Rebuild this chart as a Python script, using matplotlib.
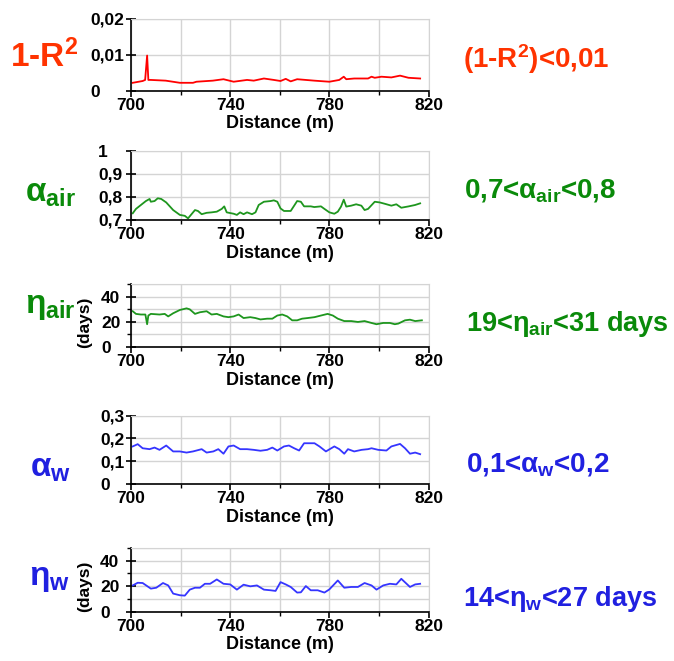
"""Profiles of fit quality and air/water parameters along the distance."""

import numpy as np
import matplotlib.pyplot as plt
from matplotlib.ticker import FixedLocator, MultipleLocator, NullFormatter

plt.rcParams['font.family'] = ['Liberation Sans', 'DejaVu Sans']
plt.rcParams['font.weight'] = 'bold'
plt.rcParams['mathtext.fontset'] = 'custom'
plt.rcParams['mathtext.rm'] = 'Liberation Sans:bold'
plt.rcParams['mathtext.it'] = 'Liberation Sans:bold'
plt.rcParams['mathtext.bf'] = 'Liberation Sans:bold'

# 1 - R^2
r2_x = [700.7, 704.7, 705.7, 706.5, 707, 708, 714, 719.7, 725, 726.4, 733, 737.3,
        741.4, 746.8, 749.5, 753.6, 757.6, 760.3, 762.4, 764.4, 767, 773.9, 780,
        784, 785.8, 786.8, 790, 795.6, 797, 798.3, 801, 805, 808.5, 811.9, 816.6]
r2_y = [0.0022, 0.0027, 0.0030, 0.0098, 0.0030, 0.0030, 0.0028, 0.0022, 0.0022,
        0.0025, 0.0028, 0.0032, 0.0025, 0.0030, 0.0028, 0.0034, 0.0030, 0.0027,
        0.0033, 0.0026, 0.0032, 0.0028, 0.0025, 0.0030, 0.0039, 0.0032, 0.0034,
        0.0034, 0.0039, 0.0036, 0.0039, 0.0037, 0.0042, 0.0036, 0.0034]

# alpha air
aa_x = [700.7, 702, 704, 706, 707.5, 708, 709.5, 710.8, 712.2, 714.2, 717, 719.7,
        721.7, 723, 724.4, 725.8, 727, 728.5, 730.5, 732.5, 734.6, 736.6, 737.6,
        738.6, 741.4, 742.7, 744, 745.4, 746.8, 748.8, 750.2, 751.5, 753.6, 756.3,
        757.6, 759, 760.3, 761.7, 764.4, 765.8, 767, 768.5, 769.8, 772.5, 773.9,
        776.6, 778, 780, 782, 783.4, 784.7, 785.8, 786.8, 788.8, 790.8, 792.9,
        794.2, 795.6, 798.3, 800.3, 802.4, 805, 807, 809, 812, 814.6, 816.6]
aa_y = [0.729, 0.748, 0.765, 0.782, 0.791, 0.779, 0.782, 0.794, 0.791, 0.776,
        0.743, 0.722, 0.718, 0.707, 0.725, 0.743, 0.739, 0.725, 0.731, 0.733,
        0.736, 0.748, 0.759, 0.733, 0.727, 0.722, 0.733, 0.725, 0.733, 0.725,
        0.733, 0.765, 0.779, 0.782, 0.785, 0.779, 0.750, 0.739, 0.739, 0.762,
        0.782, 0.779, 0.759, 0.759, 0.756, 0.759, 0.748, 0.733, 0.727, 0.736,
        0.758, 0.788, 0.758, 0.762, 0.768, 0.762, 0.743, 0.748, 0.779, 0.776,
        0.770, 0.762, 0.768, 0.753, 0.759, 0.765, 0.772]

# eta air (days)
ea_x = [700.7, 702, 704, 705.8, 706.5, 707, 708, 711.5, 713.6, 715, 717, 719.7,
        722.4, 723.7, 725.8, 727.8, 730.5, 732.5, 734.6, 737.3, 739.3, 741.4,
        743.4, 745.4, 748.1, 750.2, 752.2, 754.9, 757, 759, 761, 763, 765, 767,
        769, 771.2, 774, 776.6, 779.3, 781.4, 783.4, 786, 788.8, 791.5, 794.2,
        797, 799, 801.7, 804.4, 806.4, 807.8, 810.5, 812.5, 814.6, 817.3]
ea_y = [28.4, 26.3, 25.8, 25.8, 18.1, 25.0, 26.3, 25.8, 26.3, 24.3, 26.8, 29.4,
        30.7, 29.9, 26.3, 27.6, 28.4, 25.8, 26.3, 24.3, 23.7, 24.3, 25.8, 23.0,
        23.7, 23.0, 21.9, 22.5, 22.5, 25.0, 25.8, 24.3, 21.2, 21.2, 22.5, 23.0,
        23.7, 25.0, 26.3, 25.0, 22.5, 20.6, 20.6, 19.9, 20.6, 19.1, 18.1, 19.1,
        19.1, 18.1, 18.6, 21.2, 21.7, 20.6, 21.2]

# alpha water
aw_x = [700.7, 702.7, 704.7, 707.5, 709.5, 711.5, 714.2, 717, 719.7, 722.4, 725,
        728.5, 730.5, 733.2, 735.2, 737.3, 739.3, 741.4, 744, 746.8, 749.5, 752.2,
        754.9, 757, 759, 761.7, 763.7, 765.8, 767.8, 769.8, 774, 776, 778.6, 782,
        784, 786, 787.5, 790, 793, 795.6, 797, 799.7, 803, 805, 808.5, 810.5,
        812.5, 814.6, 816.6]
aw_y = [0.165, 0.175, 0.157, 0.153, 0.160, 0.150, 0.169, 0.143, 0.143, 0.138,
        0.143, 0.153, 0.138, 0.143, 0.153, 0.133, 0.165, 0.169, 0.153, 0.153,
        0.150, 0.146, 0.150, 0.160, 0.147, 0.165, 0.169, 0.157, 0.147, 0.179,
        0.179, 0.165, 0.143, 0.165, 0.153, 0.133, 0.153, 0.143, 0.150, 0.153,
        0.157, 0.150, 0.147, 0.165, 0.176, 0.157, 0.133, 0.138, 0.131]

# eta water (days)
ew_x = [700.7, 702.7, 704.7, 708, 710.2, 712.9, 715, 717, 719.7, 721.7, 723.7,
        725.8, 727.8, 729.8, 731.9, 734.6, 737.3, 740, 742.7, 745.4, 748.1, 750.8,
        753.6, 756.3, 758.3, 760.3, 762.4, 764.4, 767, 768.5, 770.5, 772.5, 775.3,
        778, 780, 783.4, 786, 788.8, 791.5, 794.2, 797, 799, 801.7, 804.4, 807,
        809, 812.5, 814.6, 816.6]
ew_y = [20.6, 22.7, 22.5, 18.1, 18.8, 22.5, 20.6, 14.2, 12.9, 12.6, 17.3, 18.8,
        18.8, 21.9, 21.9, 25.3, 21.9, 21.4, 17.3, 21.2, 19.9, 20.6, 17.3, 16.8,
        16.3, 23.2, 21.4, 19.4, 15.0, 15.2, 20.1, 16.8, 16.8, 15.0, 17.5, 24.5,
        18.8, 19.4, 19.4, 22.5, 20.6, 17.3, 20.6, 21.9, 21.4, 25.8, 19.4, 21.4,
        21.9]

x_major = [700, 740, 780, 820]
x_minor = [720, 760, 800]

ORANGE = '#ff3300'
GREEN = '#0a8a0a'
BLUE = '#2020e0'

W, H = 674.0, 661.0
AX_LEFT = 131.0
fig = plt.figure(figsize=(W / 100, H / 100), dpi=100)

# series, bottom/height (fig fraction), ylim, y steps, line colour, ylabel,
# left edge (px) of the left-aligned y tick labels
panels = [
    (r2_x, r2_y, 0.8628, 0.1085, (0, 0.02), 0.01, None, '#ff0000', None, 90),
    (aa_x, aa_y, 0.6672, 0.1048, (0.7, 1.0), 0.1, None, '#1e961e', None, 98),
    (ea_x, ea_y, 0.4750, 0.0953, (0, 50), 20, 10, '#1e961e', '(days)', 101),
    (aw_x, aw_y, 0.2678, 0.1033, (0, 0.3), 0.1, None, '#3535ff', None, 100),
    (ew_x, ew_y, 0.0746, 0.0964, (0, 50), 20, 10, '#3535ff', '(days)', 100),
]
ytick_fmt = {0.01: lambda v: '0' if v == 0 else f'{v:.2f}'.replace('.', ','),
             0.1: lambda v: ('0' if v == 0 else '1' if v == 1 else f'{v:.1f}'.replace('.', ',')),
             20: lambda v: f'{v:.0f}'}

for xs, ys, bottom, height, ylim, major, minor, color, ylab, lab_x in panels:
    ax = fig.add_axes([AX_LEFT / W, bottom, 0.4415, height])
    ax.plot(xs, ys, color=color, lw=1.3)
    ax.set_xlim(700, 820)
    ax.set_ylim(*ylim)
    ax.xaxis.set_major_locator(FixedLocator(x_major))
    ax.xaxis.set_minor_locator(FixedLocator(x_minor))
    ax.yaxis.set_major_locator(MultipleLocator(major))
    if minor:
        ax.yaxis.set_minor_locator(MultipleLocator(minor))
        ax.yaxis.set_minor_formatter(NullFormatter())
    fmt = ytick_fmt[major]
    ticks = [t for t in ax.get_yticks() if ylim[0] - 1e-9 <= t <= ylim[1] + 1e-9]
    ax.set_yticks(ticks)
    ax.set_yticklabels([fmt(round(t, 3)) for t in ticks], ha='left')
    ax.grid(True, which='both', color='#d4d4d4', lw=1)
    ax.set_axisbelow(True)
    for side in ('top', 'right'):
        ax.spines[side].set_color('#d4d4d4')
    for side in ('left', 'bottom'):
        ax.spines[side].set_color('black')
        ax.spines[side].set_linewidth(1.2)
    tick_len = 7
    # inout ticks: label offset = pad + length / 2 (points)
    ypad = (AX_LEFT - lab_x) * 0.72 - tick_len / 2
    ax.tick_params(axis='y', which='major', direction='inout', length=tick_len,
                   width=1.2, labelsize=12.5, pad=ypad)
    ax.tick_params(axis='y', which='minor', direction='out', length=3, width=1)
    ax.tick_params(axis='x', which='major', direction='out', length=4,
                   width=1.2, labelsize=12.5, pad=1)
    ax.tick_params(axis='x', which='minor', direction='out', length=3, width=1)
    ax.set_xlabel('Distance (m)', fontsize=13, fontweight='bold', labelpad=2)
    if ylab:
        ax.set_ylabel(ylab, fontsize=12.5, fontweight='bold')
        ax.yaxis.set_label_coords((92 - AX_LEFT) / (0.4415 * W), 0.4)

left_labels = [
    ('1-R$^2$', 9.5, 67, ORANGE, 24),
    (r'$\alpha_{air}$', 25, 202, GREEN, 24),
    (r'$\eta_{air}$', 25, 313, GREEN, 24),
    (r'$\alpha_{w}$', 30, 477, BLUE, 24),
    (r'$\eta_{w}$', 29, 585, BLUE, 24),
]
right_labels = [
    ('(1-R$^2$)<0,01', 463, 68, ORANGE, 20),
    (r'0,7<$\alpha_{air}$<0,8', 464, 197, GREEN, 20),
    (r'19<$\eta_{air}$<31 days', 466, 331, GREEN, 19.5),
    (r'0,1<$\alpha_{w}$<0,2', 466, 471, BLUE, 20),
    (r'14<$\eta_{w}$<27 days', 463, 606, BLUE, 19.5),
]
for txt, x, y, c, fs in left_labels + right_labels:
    fig.text(x / W, 1 - y / H, txt, color=c, fontsize=fs, fontweight='bold',
             ha='left', va='baseline')

fig.savefig('out.png', dpi=100)
